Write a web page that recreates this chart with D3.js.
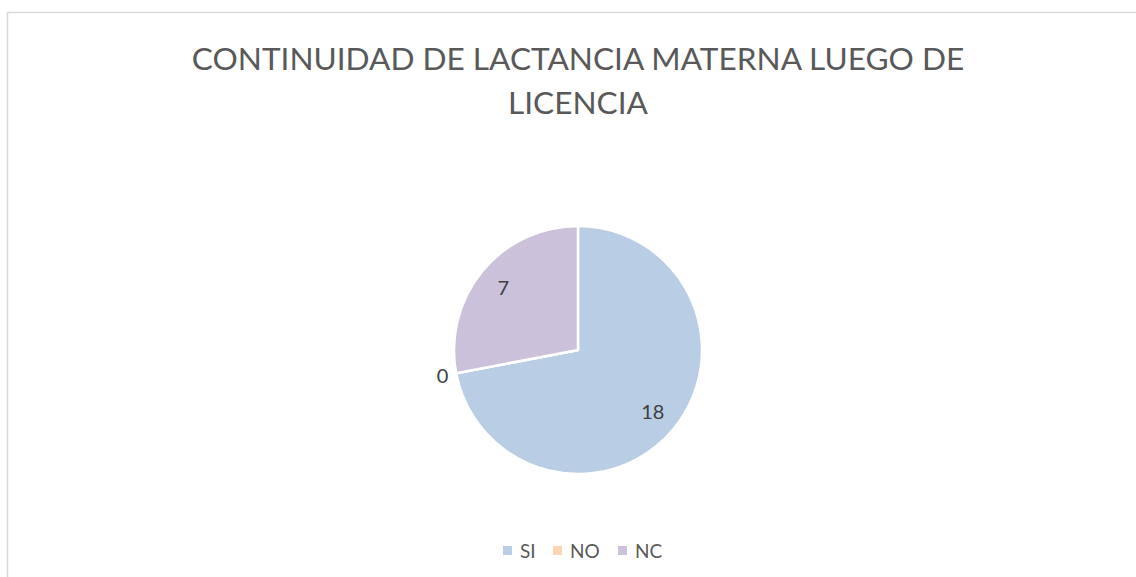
<!DOCTYPE html>
<html><head><meta charset="utf-8">
<script src="https://cdn.jsdelivr.net/npm/d3@7"></script>
<style>body{margin:0;background:#fff}svg{display:block}</style>
</head><body>
<svg id="c" width="1136" height="577"></svg>
<script>
const categories = ["SI", "NO", "NC"];
const values = [18, 0, 7];
const colors = ["#b9cde5", "#fcd5b5", "#ccc1da"];
const titleLines = ["CONTINUIDAD DE LACTANCIA MATERNA LUEGO DE", "LICENCIA"];

const svg = d3.select("#c");
const font = "Lato, 'Open Sans', sans-serif";
svg.append("rect").attr("x", 7.5).attr("y", 12.5).attr("width", 1200).attr("height", 700)
  .attr("fill", "#fff").attr("stroke", "#d9d9d9").attr("stroke-width", 1.5);

svg.append("g").selectAll("text").data(titleLines).join("text")
  .attr("x", 578).attr("y", (d, i) => 70 + i * 44)
  .attr("text-anchor", "middle").attr("font-family", font).attr("font-size", 31.6)
  .attr("fill", "#595959").text(d => d);

const cx = 578, cy = 350, R = 124;
const data = categories.map((c, i) => ({ cat: c, value: values[i], color: colors[i] }));
const pie = d3.pie().value(d => d.value).sort(null);
const arcs = pie(data);
const arc = d3.arc().innerRadius(0).outerRadius(R);
const g = svg.append("g").attr("transform", `translate(${cx},${cy})`);
g.selectAll("path").data(arcs).join("path")
  .attr("d", arc).attr("fill", d => d.data.color)
  .attr("stroke", "#fff").attr("stroke-width", 2.5).attr("stroke-linejoin", "round");

const inLabel = d3.arc().innerRadius(97).outerRadius(97);
const outLabel = d3.arc().innerRadius(138).outerRadius(138);
g.selectAll("text").data(arcs).join("text")
  .attr("transform", d => `translate(${(d.data.value === 0 ? outLabel : inLabel).centroid(d)})`)
  .attr("text-anchor", "middle").attr("dy", "0.35em")
  .attr("font-family", font).attr("font-size", 20).attr("fill", "#404040")
  .text(d => d.data.value);

const legend = svg.append("g").attr("transform", "translate(0,551)");
const lx = d3.scaleOrdinal().domain(categories).range([503, 553, 618]);
const items = legend.selectAll("g").data(data).join("g")
  .attr("transform", d => `translate(${lx(d.cat)},0)`);
items.append("rect").attr("x", 0).attr("y", -5).attr("width", 9).attr("height", 9).attr("fill", d => d.color);
items.append("text").attr("x", 17).attr("dy", "0.35em").attr("font-family", font)
  .attr("font-size", 19).attr("fill", "#595959").text(d => d.cat);
</script>
</body></html>
